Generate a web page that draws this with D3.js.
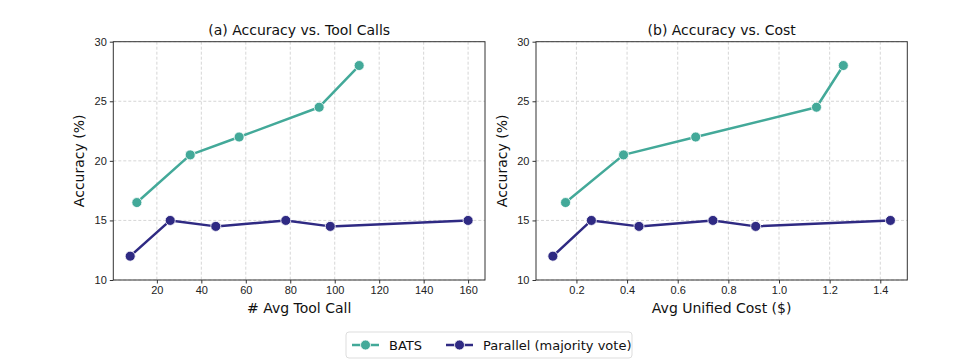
<!DOCTYPE html>
<html>
<head>
<meta charset="utf-8">
<script src="https://cdn.jsdelivr.net/npm/d3@7"></script>
<style>
  body { margin: 0; background: #fff; font-family: "DejaVu Sans", sans-serif; }
  .tick text { font-size: 11px; fill: #222; }
  .tick line { stroke: #333; }
  .grid line { stroke: #ccc; stroke-dasharray: 3,2; stroke-width: 0.8; }
</style>
</head>
<body>
<svg id="chart" width="960" height="364"></svg>
<script>
// panel (a): accuracy vs avg tool calls
var batsCalls = [11, 35, 57, 93, 111];
var batsAcc = [16.5, 20.5, 22, 24.5, 28];
var parCalls = [8, 26, 46.5, 78, 98, 160];
var parAcc = [12, 15, 14.5, 15, 14.5, 15];

// panel (b): accuracy vs avg unified cost ($)
var batsCost = [0.157, 0.386, 0.671, 1.148, 1.254];
var parCost = [0.107, 0.259, 0.447, 0.739, 0.908, 1.44];

var xTicksA = [20, 40, 60, 80, 100, 120, 140, 160];
var xTicksB = [0.2, 0.4, 0.6, 0.8, 1.0, 1.2, 1.4];
var yTicks = [10, 15, 20, 25, 30];

var batsColor = "#43a999";
var parColor = "#2f2a83";

var svg = d3.select("#chart");

function padDomain(vals) {
    var lo = d3.min(vals), hi = d3.max(vals);
    var m = (hi - lo) * 0.05;
    return [lo - m, hi + m];
}

function drawPanel(left, right, title, xlabel, bx, px, xTicks, fmt) {
    var top = 41.7, bottom = 280;
    var x = d3.scaleLinear().domain(padDomain(bx.concat(px))).range([left, right]);
    var y = d3.scaleLinear().domain([10, 30]).range([bottom, top]);

    var g = svg.append("g");

    // grid
    g.append("g").attr("class", "grid")
        .selectAll("line").data(xTicks).enter().append("line")
        .attr("x1", d => x(d)).attr("x2", d => x(d))
        .attr("y1", top).attr("y2", bottom);
    g.append("g").attr("class", "grid")
        .selectAll("line").data(yTicks).enter().append("line")
        .attr("x1", left).attr("x2", right)
        .attr("y1", d => y(d)).attr("y2", d => y(d));

    // axes
    var xa = g.append("g").attr("transform", "translate(0," + bottom + ")")
        .call(d3.axisBottom(x).tickValues(xTicks).tickFormat(fmt).tickSizeOuter(0).tickSize(3.5).tickPadding(3));
    var ya = g.append("g").attr("transform", "translate(" + left + ",0)")
        .call(d3.axisLeft(y).tickValues(yTicks).tickSizeOuter(0).tickSize(3.5).tickPadding(3));
    xa.select(".domain").remove();
    ya.select(".domain").remove();

    // frame
    g.append("rect").attr("x", left).attr("y", top)
        .attr("width", right - left).attr("height", bottom - top)
        .attr("fill", "none").attr("stroke", "#333").attr("stroke-width", 1);

    // lines
    var line = d3.line().x(d => x(d[0])).y(d => y(d[1]));
    var series = [
        { xs: px, ys: parAcc, color: parColor },
        { xs: bx, ys: batsAcc, color: batsColor }
    ];
    series.forEach(function(s) {
        var pts = s.xs.map((v, i) => [v, s.ys[i]]);
        g.append("path").datum(pts)
            .attr("d", line)
            .attr("fill", "none")
            .attr("stroke", s.color)
            .attr("stroke-width", 2.5)
            .attr("stroke-linejoin", "round");
        g.selectAll(null).data(pts).enter().append("circle")
            .attr("cx", d => x(d[0])).attr("cy", d => y(d[1]))
            .attr("r", 5)
            .attr("fill", s.color)
            .attr("stroke", "#fff")
            .attr("stroke-width", 0.8);
    });

    // title and labels
    var cx = (left + right) / 2;
    g.append("text").attr("x", cx).attr("y", 35)
        .attr("text-anchor", "middle").attr("font-size", 14).attr("fill", "#111")
        .text(title);
    g.append("text").attr("x", cx).attr("y", 312.5)
        .attr("text-anchor", "middle").attr("font-size", 14).attr("fill", "#111")
        .text(xlabel);
    g.append("text")
        .attr("transform", "translate(" + (left - 29) + "," + ((top + bottom) / 2) + ") rotate(-90)")
        .attr("text-anchor", "middle").attr("font-size", 14).attr("fill", "#111")
        .text("Accuracy (%)");
}

drawPanel(113.3, 485, "(a) Accuracy vs. Tool Calls", "# Avg Tool Call",
    batsCalls, parCalls, xTicksA, d3.format("d"));
drawPanel(536, 907.3, "(b) Accuracy vs. Cost", "Avg Unified Cost ($)",
    batsCost, parCost, xTicksB, d3.format(".1f"));

// legend
var legend = svg.append("g");
legend.append("rect").attr("x", 346).attr("y", 332).attr("width", 286).attr("height", 26)
    .attr("rx", 3).attr("fill", "#fff").attr("stroke", "#ddd").attr("stroke-width", 1);
var items = [
    { label: "BATS", color: batsColor, x: 352 },
    { label: "Parallel (majority vote)", color: parColor, x: 446 }
];
items.forEach(function(it) {
    legend.append("line").attr("x1", it.x).attr("x2", it.x + 27)
        .attr("y1", 345).attr("y2", 345)
        .attr("stroke", it.color).attr("stroke-width", 2.5);
    legend.append("circle").attr("cx", it.x + 13.5).attr("cy", 345).attr("r", 5)
        .attr("fill", it.color).attr("stroke", "#fff").attr("stroke-width", 0.8);
    legend.append("text").attr("x", it.x + 37).attr("y", 349.5)
        .attr("font-size", 13).attr("fill", "#111").text(it.label);
});
</script>
</body>
</html>
